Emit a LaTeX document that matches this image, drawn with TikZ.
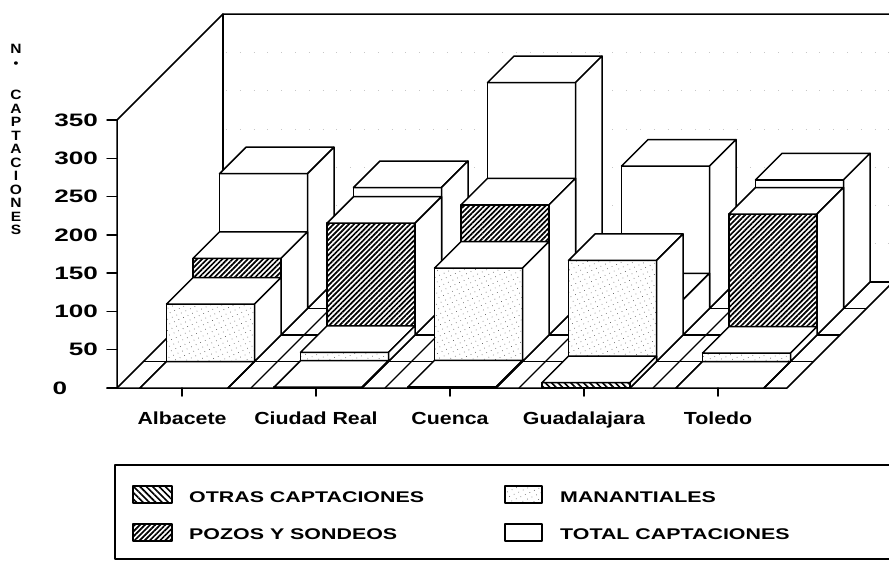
\documentclass[tikz,border=0pt]{standalone}
\usepackage{fontspec}
\usetikzlibrary{patterns.meta}
\newfontfamily\ynumfont[FakeStretch=1.45]{Liberation Sans}
\newfontfamily\catfont[FakeStretch=1.22]{Liberation Sans}
\newfontfamily\legfont[FakeStretch=1.38]{Liberation Sans}
\newfontfamily\titfont[FakeStretch=1.15]{Liberation Sans}

% one 3-D bar: #1 category, #2 row (0 = front), #3 value, #4 front-face style
\newcommand{\cbarbox}[4]{%
  \pgfmathsetmacro\bxa{140+134*#1+26.5*#2}%
  \pgfmathsetmacro\bxb{\bxa+88}%
  \pgfmathsetmacro\byb{388-26.5*#2}%
  \pgfmathsetmacro\byt{\byb-0.7657*#3}%
  \draw[#4] (\bxa,\byb) rectangle (\bxb,\byt);
  \draw[sideface] (\bxa,\byt) -- (\bxa+26.5,\byt-26.5) -- (\bxb+26.5,\byt-26.5) -- (\bxb,\byt) -- cycle;
  \draw[sideface] (\bxb,\byt) -- (\bxb+26.5,\byt-26.5) -- (\bxb+26.5,\byb-26.5) -- (\bxb,\byb) -- cycle;
}

\begin{document}
\begin{tikzpicture}[x=1pt,y=-1pt,
  edge/.style={line width=1.5pt, line join=round, line cap=round},
  floorl/.style={line width=1.3pt, line cap=round},
  gridl/.style={black!22, line width=0.7pt, dash pattern=on 0.8pt off 13pt},
  sideface/.style={edge, fill=white},
  totalface/.style={edge, fill=white},
  manface/.style={edge, preaction={fill=white}, pattern={Dots[distance=5pt,radius=0.45pt,angle=25]}, pattern color=black!70},
  pozface/.style={edge, preaction={fill=white}, pattern={Lines[angle=45,distance=3.6pt,line width=1.7pt]}},
  otrface/.style={edge, preaction={fill=white}, pattern={Lines[angle=-45,distance=4.5pt,line width=1.6pt]}},
  ylab/.style={font=\ynumfont\bfseries\fontsize{18}{18}\selectfont, inner sep=0pt},
  catlab/.style={font=\catfont\bfseries\fontsize{17.5}{17.5}\selectfont, inner sep=0pt},
  leglab/.style={font=\legfont\bfseries\fontsize{15.5}{15.5}\selectfont, inner sep=0pt, anchor=base west},
  titlab/.style={font=\titfont\bfseries\fontsize{13.5}{13.5}\selectfont, inner sep=0pt}
]
\useasboundingbox (0,0) rectangle (889,563);
\clip (0,0) rectangle (889,563);

% walls
\draw[edge] (117,388) -- (117,120) -- (223,14) -- (900,14);
\foreach \v in {50,100,...,300}
  \draw[gridl] (226,282-0.7657*\v) -- (893,282-0.7657*\v);
\draw[edge] (223,14) -- (223,282) -- (900,282);
\draw[edge] (117,388) -- (223,282);

% floor
\foreach \r in {1,2,3}
  \draw[floorl] (117+26.5*\r,388-26.5*\r) -- (787+26.5*\r,388-26.5*\r);
\foreach \X in {140,228,251,274,362,385,408,496,519,542,630,653,676,764}
  \draw[floorl] (\X,388) -- (\X+106,282);
\draw[edge] (107,388) -- (787,388) -- (893,282);

% bars, back row first
\foreach \c/\v in {0/176,1/158,2/295,3/186,4/168} {\cbarbox{\c}{3}{\v}{totalface}}
\foreach \c/\v in {0/100,1/146,2/170,3/46,4/158} {\cbarbox{\c}{2}{\v}{pozface}}
\foreach \c/\v in {0/75,1/12,2/122,3/132,4/11} {\cbarbox{\c}{1}{\v}{manface}}
\foreach \c/\v in {0/0,1/1,2/1.5,3/7,4/0} {\cbarbox{\c}{0}{\v}{otrface}}

% value axis
\foreach \v in {0,50,...,350}
  \draw[edge] (107,388-0.7657*\v) -- (117,388-0.7657*\v);
\foreach \v [count=\i] in {50,100,...,350}
  \node[ylab, anchor=east] (ylab\i) at (98,388-0.7657*\v) {\v};
\node[ylab] (ylab0) at (60,388) {0};

% axis title
\node[titlab] (tN) at (16,49) {N};
\node[titlab, font=\titfont\bfseries\fontsize{12}{12}\selectfont] (tdot) at (16,65) {•};
\foreach \ch [count=\i] in {C,A,P,T,A,C,I,O,N,E,S}
  \node[titlab] (t\i) at (16,95+13.5*\i-13.5) {\ch};

% categories
\foreach \c in {0,...,4}
  \draw[edge] (182+134*\c,388) -- (182+134*\c,396);
\foreach \c/\n in {0/Albacete,1/Ciudad Real,2/Cuenca,3/Guadalajara,4/Toledo}
  \node[catlab, anchor=base] (cat\c) at (182+134*\c,424.3) {\n};

% legend
\draw[edge] (115,465) rectangle (900,559);
\draw[otrface] (133,486) rectangle (172,503);
\draw[pozface] (133,524) rectangle (172,541);
\draw[manface] (505,486) rectangle (542,503);
\draw[totalface] (505,524) rectangle (542,541);
\node[leglab] (lg1) at (189,502.2) {OTRAS CAPTACIONES};
\node[leglab] (lg2) at (189,539) {POZOS Y SONDEOS};
\node[leglab] (lg3) at (560,502.2) {MANANTIALES};
\node[leglab] (lg4) at (560,539) {TOTAL CAPTACIONES};
\end{tikzpicture}
\end{document}
